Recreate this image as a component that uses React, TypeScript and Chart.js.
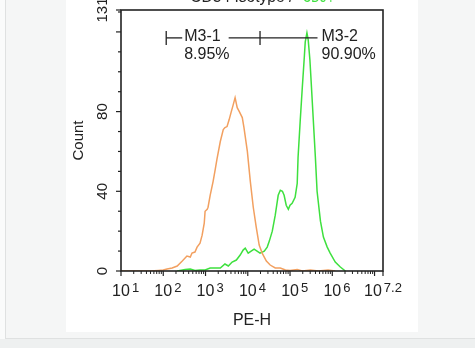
import { useEffect, useRef } from "react";
import { Chart, registerables } from "chart.js";

Chart.register(...registerables);

// PE-H intensity, expressed as log10 decades (axis is 10^1 .. 10^7.2)
const isotypeLog = [1.0, 1.69, 1.88, 2.0, 2.09, 2.21, 2.33, 2.45, 2.56, 2.64, 2.68, 2.75, 2.8, 2.87, 2.92, 2.97, 2.99, 3.04, 3.06, 3.11, 3.18, 3.23, 3.27, 3.35, 3.42, 3.46, 3.51, 3.56, 3.61, 3.65, 3.7, 3.75, 3.8, 3.87, 3.91, 3.99, 4.06, 4.13, 4.2, 4.27, 4.34, 4.44, 4.53, 4.65, 4.77, 4.89, 5.0, 5.17, 5.29, 5.48, 5.67, 5.9, 6.07];
const isotypeCount = [0, 0, 0.3, 0.5, 1, 1.5, 2.5, 5, 7.5, 7, 9, 9.5, 12, 14, 18, 24, 30, 31, 32, 38, 45, 51, 56, 65, 71, 72, 72.5, 76, 80, 83, 87, 82, 80, 77, 72, 60, 45, 32, 22, 13, 9, 5, 3, 1.5, 1.5, 0.5, 0.2, 0.8, 0, 0.5, 0, 0.5, 0];

const sampleLog = [2.33, 2.52, 2.64, 2.75, 2.87, 2.99, 3.11, 3.23, 3.35, 3.46, 3.54, 3.63, 3.73, 3.82, 3.89, 3.94, 4.01, 4.08, 4.15, 4.22, 4.29, 4.39, 4.46, 4.51, 4.58, 4.65, 4.72, 4.77, 4.82, 4.86, 4.91, 4.96, 5.0, 5.05, 5.12, 5.17, 5.19, 5.24, 5.29, 5.34, 5.36, 5.4, 5.43, 5.47, 5.5, 5.55, 5.6, 5.64, 5.72, 5.79, 5.88, 5.95, 6.07, 6.19, 6.31];
const sampleCount = [0, 0.8, 1, 0.3, 0.5, 0.5, 1.5, 1.5, 1.5, 3.5, 2.5, 4.5, 5.5, 8, 10.5, 11.5, 9, 10, 11, 10, 9, 10, 12, 15, 20, 28, 38, 40.5, 40, 38, 33, 31, 33, 34, 37, 44, 57, 75, 92, 108, 115, 119.5, 116, 106, 95, 76, 57, 40, 25, 17, 12, 9, 4.5, 2, 0];

const xTickExponents = ["1", "2", "3", "4", "5", "6", "7.2"];
const yTickLabels = [0, 40, 80, 131];
const yMax = 131;

const gateNames = ["M3-1", "M3-2"];
const gatePercents = ["8.95%", "90.90%"];
const gateLo = [2.07, 4.29];
const gateHi = [4.29, 5.65];
const gateLevel = 117;

const titleBlack = "CD34 Isotype /";
const titleGreen = "CD34";

const FONT = "'Liberation Sans', Arial, Helvetica, sans-serif";
const INK = "#222";
const ORANGE = "#f2a060";
const GREEN = "#3ee03e";

const overlay = {
  id: "overlay",
  afterDraw(chart: any) {
    const { ctx, chartArea: a, scales } = chart;
    const xs = scales.x;
    const ys = scales.y;
    ctx.save();
    ctx.strokeStyle = INK;
    ctx.fillStyle = INK;
    const line = (x1: number, y1: number, x2: number, y2: number, w = 1.2) => {
      ctx.lineWidth = w;
      ctx.beginPath();
      ctx.moveTo(x1, y1);
      ctx.lineTo(x2, y2);
      ctx.stroke();
    };
    // frame
    ctx.lineWidth = 1.6;
    ctx.strokeRect(a.left, a.top, a.right - a.left, a.bottom - a.top);

    // y ticks
    for (let v = 0; v <= 130; v += 10) {
      const y = ys.getPixelForValue(v);
      line(a.left - (v % 40 === 0 ? 5 : 3), y, a.left, y);
    }
    line(a.left - 5, ys.getPixelForValue(yMax), a.left, ys.getPixelForValue(yMax));

    // x ticks
    const maxExp = parseFloat(xTickExponents[xTickExponents.length - 1]);
    for (let d = 1; d < maxExp; d++) {
      line(xs.getPixelForValue(d), a.bottom, xs.getPixelForValue(d), a.bottom + 5);
      for (let m = 2; m <= 9; m++) {
        const lv = d + Math.log10(m);
        if (lv < maxExp) {
          const x = xs.getPixelForValue(lv);
          line(x, a.bottom, x, a.bottom + 3, 1);
        }
      }
    }
    line(xs.getPixelForValue(maxExp), a.bottom, xs.getPixelForValue(maxExp), a.bottom + 5);

    // x labels
    ctx.textBaseline = "alphabetic";
    ctx.textAlign = "left";
    for (const e of xTickExponents) {
      const t = xs.getPixelForValue(parseFloat(e));
      ctx.font = `16px ${FONT}`;
      const w10 = ctx.measureText("10").width;
      ctx.font = `13px ${FONT}`;
      const ws = ctx.measureText(e).width;
      const gap = 2;
      const x0 = e.includes(".") ? t - (w10 + gap + ws) / 2 : t - w10 / 2;
      ctx.font = `16px ${FONT}`;
      ctx.fillText("10", x0, a.bottom + 25);
      ctx.font = `13px ${FONT}`;
      ctx.fillText(e, x0 + w10 + gap, a.bottom + 20.5);
    }
    ctx.font = `16px ${FONT}`;
    ctx.textAlign = "center";
    ctx.fillText("PE-H", (a.left + a.right) / 2, a.bottom + 54);

    // y labels (rotated)
    for (const v of yTickLabels) {
      ctx.save();
      ctx.translate(a.left - 14, ys.getPixelForValue(v));
      ctx.rotate(-Math.PI / 2);
      ctx.font = `15px ${FONT}`;
      ctx.textAlign = "center";
      ctx.fillText(String(v), 0, 0);
      ctx.restore();
    }
    ctx.save();
    ctx.translate(a.left - 38, (a.top + a.bottom) / 2);
    ctx.rotate(-Math.PI / 2);
    ctx.font = `15px ${FONT}`;
    ctx.textAlign = "center";
    ctx.fillText("Count", 0, 0);
    ctx.restore();

    // gates
    const gy = ys.getPixelForValue(gateLevel);
    ctx.font = `16px ${FONT}`;
    ctx.textAlign = "left";
    for (let i = 0; i < gateNames.length; i++) {
      const lo = xs.getPixelForValue(gateLo[i]);
      const hi = xs.getPixelForValue(gateHi[i]);
      const w = ctx.measureText(gateNames[i]).width;
      let tx: number;
      if (i === 0) {
        tx = lo + 18;
        line(lo, gy, tx - 2, gy, 1.3);
        line(tx + w + 8, gy, hi, gy, 1.3);
        line(lo, gy - 7, lo, gy + 7, 1.3);
        line(hi, gy - 7, hi, gy + 7, 1.3);
      } else {
        tx = hi + 4;
        line(lo, gy, hi, gy, 1.3);
      }
      ctx.fillText(gateNames[i], tx, gy + 3.5);
      ctx.fillText(gatePercents[i], tx, gy + 21.5);
    }

    // cropped title
    ctx.font = `16px ${FONT}`;
    ctx.fillStyle = INK;
    ctx.fillText(titleBlack, xs.getPixelForValue(2.64), 1.5, 103);
    ctx.fillStyle = GREEN;
    ctx.fillText(titleGreen, xs.getPixelForValue(5.3), 1.5, 30);
    ctx.restore();
  },
};

export default function App() {
  const ref = useRef<HTMLCanvasElement | null>(null);
  useEffect(() => {
    if (!ref.current) return;
    const chart = new Chart(ref.current, {
      type: "line",
      data: {
        datasets: [
          {
            label: "Isotype",
            data: isotypeLog.map((x, i) => ({ x, y: isotypeCount[i] })),
            borderColor: ORANGE,
            borderWidth: 1.5,
            pointRadius: 0,
            tension: 0,
            fill: false,
          },
          {
            label: "Sample",
            data: sampleLog.map((x, i) => ({ x, y: sampleCount[i] })),
            borderColor: GREEN,
            borderWidth: 1.5,
            pointRadius: 0,
            tension: 0,
            fill: false,
          },
        ],
      },
      options: {
        animation: false,
        responsive: false,
        events: [],
        layout: { padding: { top: 10, right: 35, left: 0, bottom: 0 } },
        plugins: { legend: { display: false }, tooltip: { enabled: false }, title: { display: false } },
        scales: {
          x: {
            type: "linear",
            min: 1,
            max: parseFloat(xTickExponents[xTickExponents.length - 1]),
            ticks: { display: false },
            grid: { display: false },
            border: { display: false },
            afterFit: (s: any) => { s.height = 61; },
          },
          y: {
            type: "linear",
            min: 0,
            max: yMax,
            ticks: { display: false },
            grid: { display: false },
            border: { display: false },
            afterFit: (s: any) => { s.width = 55; },
          },
        },
      },
      plugins: [overlay],
    } as any);
    return () => chart.destroy();
  }, []);

  return (
    <div style={{ position: "fixed", left: 0, top: 0, width: 475, height: 348, background: "#eef0f0", overflow: "hidden" }}>
      <div style={{ position: "absolute", left: 0, top: 0, width: 5, height: 339, background: "#fafbfb" }} />
      <div style={{ position: "absolute", left: 5, top: 0, width: 470, height: 338, background: "#f5f6f6", borderLeft: "1px solid #dfe1e1", borderBottom: "1px solid #dfe1e1" }} />
      <div style={{ position: "absolute", left: 66, top: 0, width: 352, height: 332, background: "#ffffff" }} />
      <canvas ref={ref} width={352} height={332} style={{ position: "absolute", left: 66, top: 0, width: 352, height: 332 }} />
    </div>
  );
}
